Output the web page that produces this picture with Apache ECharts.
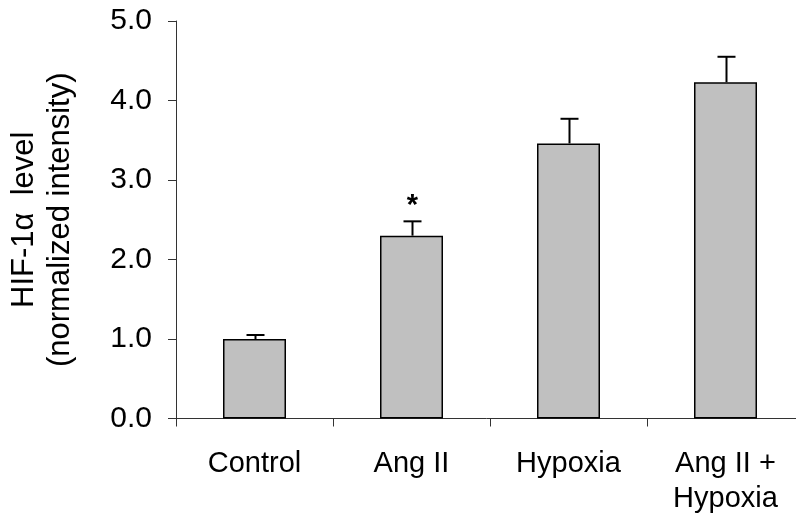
<!DOCTYPE html>
<html>
<head>
<meta charset="utf-8">
<style>
html,body{margin:0;padding:0;background:#fff;}
#chart{width:796px;height:525px;}
</style>
<script src="https://cdn.jsdelivr.net/npm/echarts@6/dist/echarts.min.js"></script>
</head>
<body>
<div id="chart"></div>
<script>
const categories = ['Control', 'Ang II', 'Hypoxia', 'Ang II +\nHypoxia'];
const values = [1.00, 2.30, 3.46, 4.23];
const errorTops = [1.05, 2.48, 3.77, 4.55];
const marks = ['', '*', '', ''];
const yTicks = [0, 1, 2, 3, 4, 5];

const FONT = '"Liberation Sans", Arial, sans-serif';
const chart = echarts.init(document.getElementById('chart'), null, {renderer: 'canvas'});

const errData = categories.map((c, i) => [i, values[i], errorTops[i], marks[i]]);

chart.setOption({
  animation: false,
  backgroundColor: '#ffffff',
  textStyle: {fontFamily: FONT},
  grid: {left: 176, right: -8, top: 21, bottom: 106.5, containLabel: false, outerBoundsMode: 'none'},
  xAxis: {
    type: 'category',
    data: categories,
    axisLine: {lineStyle: {color: '#333', width: 1}},
    axisTick: {show: true, length: 8, alignWithLabel: false, lineStyle: {color: '#333', width: 1}},
    axisLabel: {color: '#000', fontSize: 29, fontFamily: FONT, margin: 28, lineHeight: 35, interval: 0}
  },
  yAxis: {
    type: 'value',
    min: yTicks[0],
    max: yTicks[yTicks.length - 1],
    interval: 1,
    name: 'HIF-1\u03B1  level\n(normalized intensity)',
    nameLocation: 'middle',
    nameRotate: 90,
    nameGap: 98,
    nameTextStyle: {color: '#000', fontSize: 31, fontFamily: FONT, lineHeight: 36},
    splitLine: {show: false},
    axisLine: {show: true, lineStyle: {color: '#333', width: 1}},
    axisTick: {show: true, length: 8, lineStyle: {color: '#333', width: 1}},
    axisLabel: {color: '#000', fontSize: 30, fontFamily: FONT, margin: 24,
      formatter: v => v.toFixed(1)}
  },
  series: [
    {
      type: 'bar',
      data: values,
      barWidth: 63,
      itemStyle: {color: '#c0c0c0', borderColor: '#000', borderWidth: 1.5},
      z: 2
    },
    {
      type: 'custom',
      data: errData,
      z: 3,
      renderItem: function (params, api) {
        const i = api.value(0);
        const base = api.coord([i, api.value(1)]);
        const top = api.coord([i, api.value(2)]);
        const x = Math.round(base[0]) + 0.5;
        const half = 9;
        const children = [
          {type: 'line', shape: {x1: x, y1: base[1], x2: x, y2: top[1]}, style: {stroke: '#000', lineWidth: 2}},
          {type: 'line', shape: {x1: x - half, y1: top[1], x2: x + half, y2: top[1]}, style: {stroke: '#000', lineWidth: 2}}
        ];
        const m = errData[params.dataIndex][3];
        if (m) {
          children.push({type: 'text', x: x, y: top[1] - 15,
            style: {text: m, fill: '#000', font: 'bold 29px ' + FONT, align: 'center', verticalAlign: 'middle'}});
        }
        return {type: 'group', children: children};
      }
    }
  ]
});
</script>
</body>
</html>
